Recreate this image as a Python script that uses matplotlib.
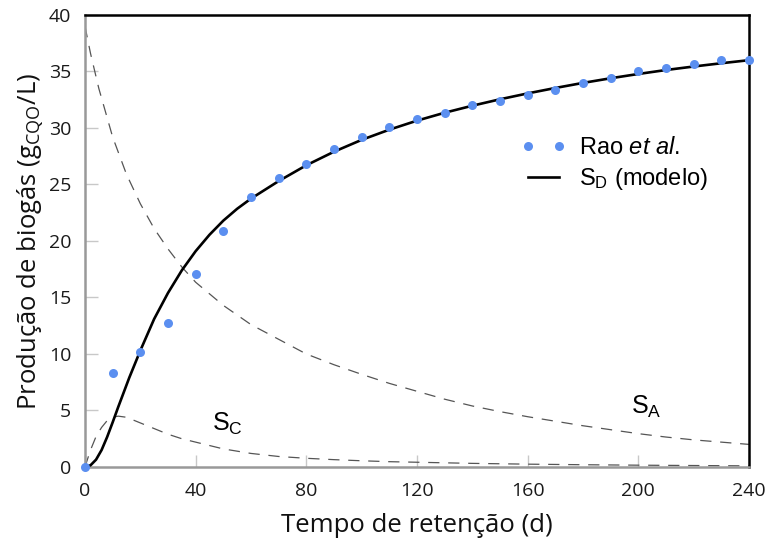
import matplotlib
matplotlib.use("Agg")
import matplotlib.pyplot as plt

arial = "Liberation Sans"
tick_font = "Open Sans"
plt.rcParams["mathtext.fontset"] = "custom"
plt.rcParams["mathtext.rm"] = arial
plt.rcParams["mathtext.it"] = arial + ":italic"

# Experimental data (Rao et al.)
days_obs = [0, 10, 20, 30, 40, 50, 60, 70, 80, 90, 100, 110, 120,
            130, 140, 150, 160, 170, 180, 190, 200, 210, 220, 230, 240]
rao = [0.0, 8.3, 10.2, 12.7, 17.1, 20.9, 23.9, 25.6, 26.8, 28.1, 29.2, 30.1, 30.8,
       31.3, 32.0, 32.4, 32.9, 33.4, 34.0, 34.4, 35.0, 35.3, 35.7, 36.0, 36.0]

# Model curves
days_sd = [0, 2, 4, 6, 8, 10, 12, 14, 16, 18, 20, 25, 30, 35, 40, 45, 50, 55,
           60, 70, 80, 90, 100, 110, 120, 130, 140, 150, 160, 170, 180, 190, 200,
           210, 220, 230, 240]
s_d = [0.0, 0.15, 0.65, 1.5, 2.65, 3.95, 5.3, 6.6, 7.9, 9.1, 10.3, 13.1, 15.4,
       17.4, 19.1, 20.55, 21.8, 22.85, 23.75, 25.3, 26.7, 27.9, 28.95, 29.85,
       30.65, 31.35, 31.97, 32.54, 33.06, 33.54, 33.99, 34.4, 34.78, 35.13,
       35.44, 35.73, 36.0]

days_sa = [0, 2, 5, 10, 15, 20, 25, 30, 35, 40, 50, 60, 70, 80, 90, 100, 110, 120,
           130, 140, 150, 160, 170, 180, 190, 200, 210, 220, 230, 240]
s_a = [39.0, 36.6, 33.5, 29.2, 25.9, 23.3, 21.1, 19.3, 17.7, 16.35, 14.3, 12.6,
       11.3, 10.0, 9.05, 8.2, 7.4, 6.7, 6.0, 5.4, 4.9, 4.45, 4.05, 3.65, 3.3,
       2.95, 2.65, 2.4, 2.2, 2.0]

days_sc = [0, 2, 4, 6, 8, 10, 12, 15, 20, 25, 30, 35, 40, 50, 60, 70, 80, 90, 100,
           110, 120, 140, 160, 180, 200, 220, 240]
s_c = [0.0, 1.5, 2.7, 3.5, 4.1, 4.4, 4.5, 4.4, 3.9, 3.4, 2.9, 2.5, 2.2, 1.6, 1.2,
       0.93, 0.77, 0.65, 0.55, 0.47, 0.42, 0.32, 0.25, 0.2, 0.16, 0.13, 0.1]

x_ticks = [0, 40, 80, 120, 160, 200, 240]
y_ticks = [0, 5, 10, 15, 20, 25, 30, 35, 40]

fig = plt.figure(figsize=(7.67, 5.39), dpi=100)
ax = fig.add_axes([0.1108, 0.1336, 0.8657, 0.8386])

dash_kw = dict(color="#555555", lw=0.9, dashes=(9, 7))
ax.plot(days_sa, s_a, **dash_kw)
ax.plot(days_sc, s_c, **dash_kw)
ax.plot(days_obs, rao, ls="none", marker="o", ms=6.5, color="#5b8ff0",
        markeredgewidth=0, label=r"Rao $\mathit{et\ al.}$", clip_on=False, zorder=4)
ax.plot(days_sd, s_d, color="black", lw=1.9, label=r"S$_\mathregular{D}$ (modelo)",
        zorder=3)

ax.text(51.5, 3.8, r"S$_\mathregular{C}$", fontsize=18, family=arial,
        ha="center", va="center")
ax.text(203, 5.3, r"S$_\mathregular{A}$", fontsize=18, family=arial,
        ha="center", va="center")

ax.set_xlim(0, 240)
ax.set_ylim(0, 40)
ax.set_xticks(x_ticks)
ax.set_yticks(y_ticks)
ax.tick_params(direction="in", length=9, width=1.0, color="#c8c8c8",
               labelsize=14)
ax.tick_params(axis="x", pad=11)
ax.tick_params(axis="y", pad=10)
for lab in ax.get_xticklabels() + ax.get_yticklabels():
    lab.set_fontfamily(tick_font)
    lab.set_color("#1a1a1a")

for side in ("left", "bottom"):
    ax.spines[side].set_color("#999999")
    ax.spines[side].set_linewidth(1.8)
for side in ("top", "right"):
    ax.spines[side].set_color("black")
    ax.spines[side].set_linewidth(1.8)

ax.set_xlabel("Tempo de retenção (d)", fontsize=18.5, family=tick_font,
              color="#111111", labelpad=9)
ax.set_ylabel(r"Produção de biogás (g$_\mathregular{CQO}$/L)", fontsize=18.5,
              family=tick_font, color="#111111", labelpad=2)

leg = ax.legend(loc="upper left", bbox_to_anchor=(0.657, 0.73), frameon=False,
                numpoints=2, prop={"family": arial, "size": 17},
                borderpad=0, borderaxespad=0, markerscale=1.0,
                handlelength=1.9, handletextpad=0.55, labelspacing=0.3)

fig.savefig("out.png", dpi=100)
